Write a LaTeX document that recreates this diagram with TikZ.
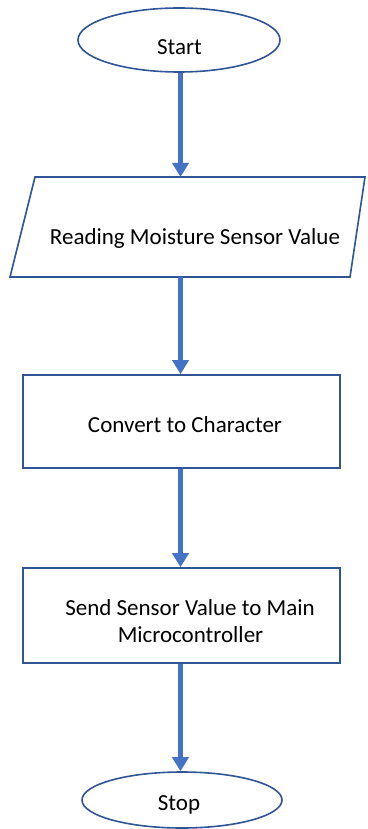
\documentclass[tikz,border=0pt]{standalone}
\usepackage{fontspec}
\setmainfont{Carlito}
\usetikzlibrary{shapes.geometric,arrows.meta}
\definecolor{outline}{HTML}{2F5597}
\definecolor{arrowblue}{HTML}{4472C4}
\tikzset{
  term/.style={ellipse,draw=outline,line width=1.6pt,fill=white,inner sep=0pt},
  procbox/.style={rectangle,draw=outline,line width=1.6pt,fill=white,inner sep=0pt},
  label/.style={inner sep=0pt,anchor=base,font=\fontsize{23}{28}\selectfont},
  flow/.style={draw=arrowblue,line width=4.5pt,-{Triangle[width=16pt,length=14pt]}}
}
\begin{document}
\begin{tikzpicture}[x=1pt,y=-1pt]
\useasboundingbox (0,0) rectangle (367,829);
% Start
\node[term,minimum width=202pt,minimum height=64pt] (start) at (179,40) {};
\node[label] (startt) at (179.5,55) {Start};
% Parallelogram
\draw[outline,line width=1.6pt,fill=white] (35,177) -- (365,177) -- (350,277) -- (10,277) -- cycle;
\coordinate (intop) at (180.5,177);
\coordinate (inbot) at (180.5,277);
\node[label] (read) at (195,244) {Reading Moisture Sensor Value};
% Convert
\node[procbox,minimum width=317pt,minimum height=93pt] (conv) at (181.5,421.5) {};
\node[label] (convt) at (185,432) {Convert to Character};
% Send
\node[procbox,minimum width=317pt,minimum height=95pt] (send) at (181.5,615.5) {};
\node[label] (sendt1) at (190,615) {Send Sensor Value to Main};
\node[label] (sendt2) at (190.5,642) {Microcontroller};
% Stop
\node[term,minimum width=200pt,minimum height=56pt] (stop) at (182,800) {};
\node[label] (stopt) at (179,810) {Stop};
% arrows
\draw[flow] (start.south -| intop) -- (intop);
\draw[flow] (inbot) -- (conv.north -| inbot);
\draw[flow] (conv.south -| inbot) -- (send.north -| inbot);
\draw[flow] (send.south -| inbot) -- (stop.north -| inbot);
\end{tikzpicture}
\end{document}
